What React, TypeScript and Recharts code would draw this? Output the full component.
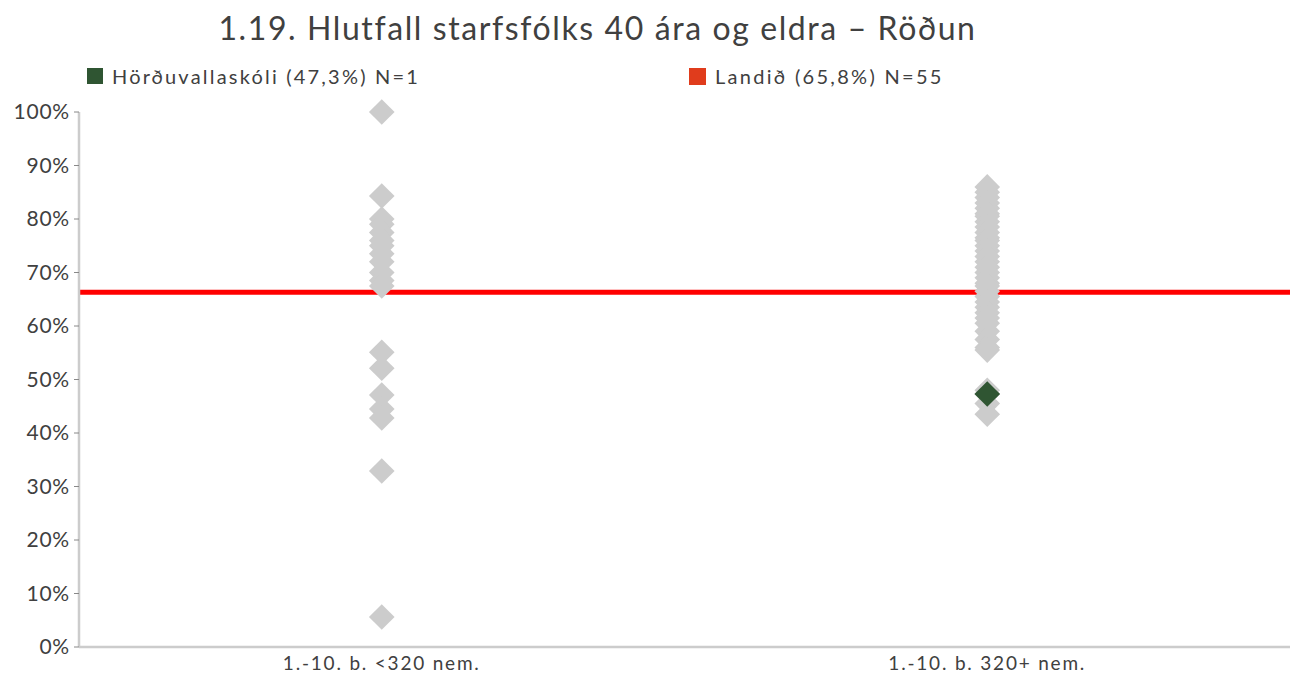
import React from "react";
import { ComposedChart, Scatter, XAxis, YAxis, ReferenceLine } from "recharts";

const title = "1.19. Hlutfall starfsfólks 40 ára og eldra – Röðun";
const categories = ["1.-10. b. <320 nem.", "1.-10. b. 320+ nem."];
const schoolLabel = "Hörðuvallaskóli (47,3%) N=1";
const countryLabel = "Landið (65,8%) N=55";
const yTicks = [0, 10, 20, 30, 40, 50, 60, 70, 80, 90, 100];

const smallSchools = [100, 84.3, 80, 79, 77.5, 76, 75, 73.5, 72, 70, 68.5, 67.5, 55.1, 52.1, 47.1, 44.5, 42.8, 32.9, 5.6];
const largeSchools = [86, 85, 84, 83, 82, 81, 80.5, 79.5, 78.5, 77.5, 76.5, 76, 75, 74, 73, 72, 71, 70, 69, 68, 67.5, 66.5, 65.5, 64.5, 63.5, 62.5, 61.5, 60.5, 59, 57.5, 56, 55.5, 48, 47.3, 45.5, 43.5];
const schoolValue = 47.3;
const schoolCategory = 1;
const countryLine = 66.3;

const grayData = [
  ...smallSchools.map((v) => ({ x: 0.5, y: v })),
  ...largeSchools.map((v) => ({ x: 1.5, y: v })),
];
const greenData = [{ x: schoolCategory + 0.5, y: schoolValue }];

const GRAY = "#cccccc";
const GREEN = "#2f5532";
const RED = "#ff0000";
const LEGEND_RED = "#e03c1c";
const TEXT = "#404040";
const FONT = "Lato, 'Open Sans', sans-serif";

const diamond = (fill: string) => (props: any) => {
  const { cx, cy } = props;
  const r = 12.8;
  return (
    <polygon
      points={`${cx},${cy - r} ${cx + r},${cy} ${cx},${cy + r} ${cx - r},${cy}`}
      fill={fill}
    />
  );
};

export default function App() {
  return (
    <div style={{ position: "absolute", left: 0, top: 0, width: 1290, height: 675, background: "#fff", fontFamily: FONT }}>
      <div style={{ position: "absolute", left: 0, width: 1195, top: 8, textAlign: "center", fontSize: 32, color: TEXT, letterSpacing: 1.6, whiteSpace: "nowrap" }}>
        {title}
      </div>
      <div style={{ position: "absolute", left: 87, top: 64, display: "flex", alignItems: "center", fontSize: 20, color: TEXT, letterSpacing: 2.2, whiteSpace: "nowrap" }}>
        <span style={{ display: "inline-block", width: 16, height: 16, background: GREEN, marginRight: 9 }} />
        {schoolLabel}
      </div>
      <div style={{ position: "absolute", left: 689, top: 64, display: "flex", alignItems: "center", fontSize: 20, color: TEXT, letterSpacing: 2.3, whiteSpace: "nowrap" }}>
        <span style={{ display: "inline-block", width: 17, height: 17, background: LEGEND_RED, marginRight: 9 }} />
        {countryLabel}
      </div>
      <div style={{ position: "absolute", left: 0, top: 0 }}>
        <ComposedChart width={1290} height={675} margin={{ top: 112, right: 0, bottom: 0, left: 0 }}>
          <XAxis
            type="number"
            dataKey="x"
            domain={[0, 2]}
            ticks={[0.5, 1.5]}
            tickFormatter={(v: number) => categories[Math.floor(v)]}
            height={28}
            axisLine={{ stroke: GRAY, strokeWidth: 2.5 }}
            tickLine={false}
            tick={{ fill: TEXT, fontSize: 19, fontFamily: FONT, letterSpacing: "1.8px" }}
            tickMargin={4}
            allowDataOverflow
          />
          <YAxis
            type="number"
            dataKey="y"
            domain={[0, 100]}
            ticks={yTicks}
            tickFormatter={(v: number) => `${v}%`}
            width={79}
            axisLine={{ stroke: GRAY, strokeWidth: 2.5 }}
            tickLine={{ stroke: "#888888" }}
            tickSize={5}
            tick={{ fill: TEXT, fontSize: 21, fontFamily: FONT, letterSpacing: "0.8px" }}
            tickMargin={4}
            interval={0}
          />
          <ReferenceLine y={countryLine} stroke={RED} strokeWidth={5} ifOverflow="extendDomain" />
          <Scatter data={grayData} fill={GRAY} shape={diamond(GRAY)} isAnimationActive={false} />
          <Scatter data={greenData} fill={GREEN} shape={diamond(GREEN)} isAnimationActive={false} />
        </ComposedChart>
      </div>
    </div>
  );
}
